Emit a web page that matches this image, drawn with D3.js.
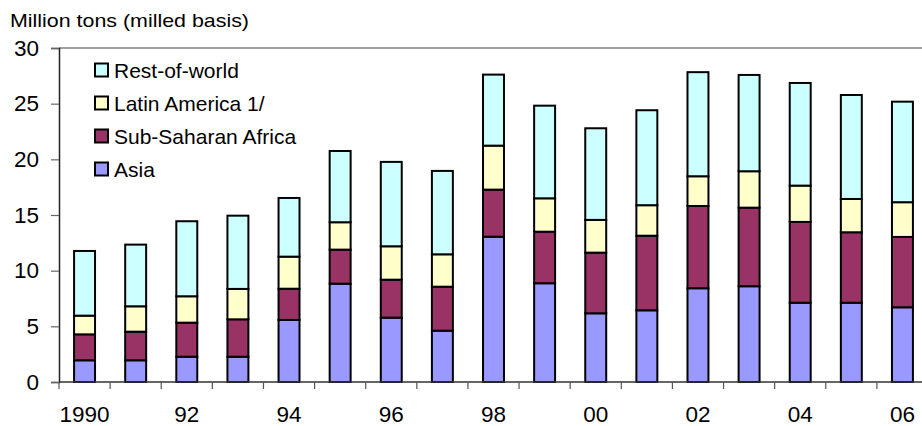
<!DOCTYPE html>
<html><head><meta charset="utf-8">
<script src="https://cdn.jsdelivr.net/npm/d3@7/dist/d3.min.js"></script>
<style>body{margin:0;background:#fff}svg{display:block;font-family:"Liberation Sans",Arial,sans-serif}</style>
</head><body><svg id="c" width="922" height="426"></svg>
<script>
const years = ["1990","1991","1992","1993","1994","1995","1996","1997","1998","1999","2000","2001","2002","2003","2004","2005","2006"];
const xLabels = ["1990","","92","","94","","96","","98","","00","","02","","04","","06"];
const asia = [1.95,1.95,2.27,2.27,5.57,8.83,5.78,4.61,13.05,8.87,6.17,6.44,8.42,8.6,7.12,7.12,6.71];
const ssa  = [2.33,2.57,3.06,3.36,2.81,3.06,3.41,3.95,4.23,4.63,5.45,6.7,7.39,7.06,7.26,6.33,6.32];
const latin= [1.68,2.28,2.37,2.73,2.88,2.46,3.0,2.91,3.95,3.0,2.94,2.74,2.67,3.27,3.26,2.99,3.12];
const row  = [5.81,5.54,6.74,6.58,5.27,6.4,7.58,7.49,6.38,8.32,8.23,8.53,9.35,8.65,9.22,9.34,9.03];
const seriesNames = ["Asia","Sub-Saharan Africa","Latin America 1/","Rest-of-world"];
const colors = ["#9999FF","#993366","#FFFFCC","#CCFFFF"];
const yTicks = [0,5,10,15,20,25,30];

const svg = d3.select("#c");
const L=59, R=928, T=48, B=382;
const x = d3.scaleBand().domain(years).range([L,R]).paddingInner(0.59).paddingOuter(0.295);
const xb = d3.scaleBand().domain(years).range([L,R]);
const y = d3.scaleLinear().domain([0,30]).range([B,T]);

const table = years.map((yr,i)=>({year:yr, "Asia":asia[i], "Sub-Saharan Africa":ssa[i], "Latin America 1/":latin[i], "Rest-of-world":row[i]}));
const stacked = d3.stack().keys(seriesNames)(table);

// plot frame top
svg.append("line").attr("x1",L).attr("x2",922).attr("y1",T).attr("y2",T).attr("stroke","#808080").attr("stroke-width",1.5);

stacked.forEach((s,k)=>{
  svg.append("g").selectAll("rect").data(s).join("rect")
    .attr("x",d=>x(d.data.year)).attr("width",x.bandwidth())
    .attr("y",d=>y(d[1])).attr("height",d=>y(d[0])-y(d[1]))
    .attr("fill",colors[k]).attr("stroke","#000").attr("stroke-width",2);
});

// y axis
const ya = svg.append("g").attr("transform",`translate(${L},0)`)
  .call(d3.axisLeft(y).tickValues(yTicks).tickSize(8).tickPadding(12).tickFormat(d3.format("d")));
ya.select(".domain").attr("stroke","#222").attr("stroke-width",1.5);
ya.selectAll(".tick line").attr("stroke","#666").attr("stroke-width",1.2);
ya.selectAll("text").attr("font-size",22.5).attr("fill","#000").attr("font-family","Liberation Sans, Arial, sans-serif");

// x axis
const xg = svg.append("g").attr("transform",`translate(0,${B})`);
xg.append("line").attr("x1",L).attr("x2",922).attr("stroke","#333").attr("stroke-width",1.5);
xg.selectAll("line.t").data(years).join("line").attr("class","t")
  .attr("x1",d=>xb(d)).attr("x2",d=>xb(d)).attr("y1",0).attr("y2",7).attr("stroke","#555").attr("stroke-width",1.2);
xg.selectAll("text").data(years).join("text")
  .attr("x",d=>xb(d)+xb.bandwidth()/2).attr("y",40).attr("text-anchor","middle")
  .attr("font-size",22.5).attr("fill","#000").text((d,i)=>xLabels[i]);

// title
svg.append("text").attr("x",10).attr("y",27).attr("font-size",19)
  .attr("textLength",239).attr("lengthAdjust","spacingAndGlyphs")
  .attr("fill","#000").text("Million tons (milled basis)");

// legend
const legOrder = [3,2,1,0];
const lg = svg.append("g");
legOrder.forEach((k,i)=>{
  const cy = 70 + i*33;
  lg.append("rect").attr("x",95).attr("y",cy-6.5).attr("width",13).attr("height",13)
    .attr("fill",colors[k]).attr("stroke","#000").attr("stroke-width",2);
  lg.append("text").attr("x",114).attr("y",cy+7.5).attr("font-size",21).attr("fill","#000").text(seriesNames[k]);
});
</script></body></html>
